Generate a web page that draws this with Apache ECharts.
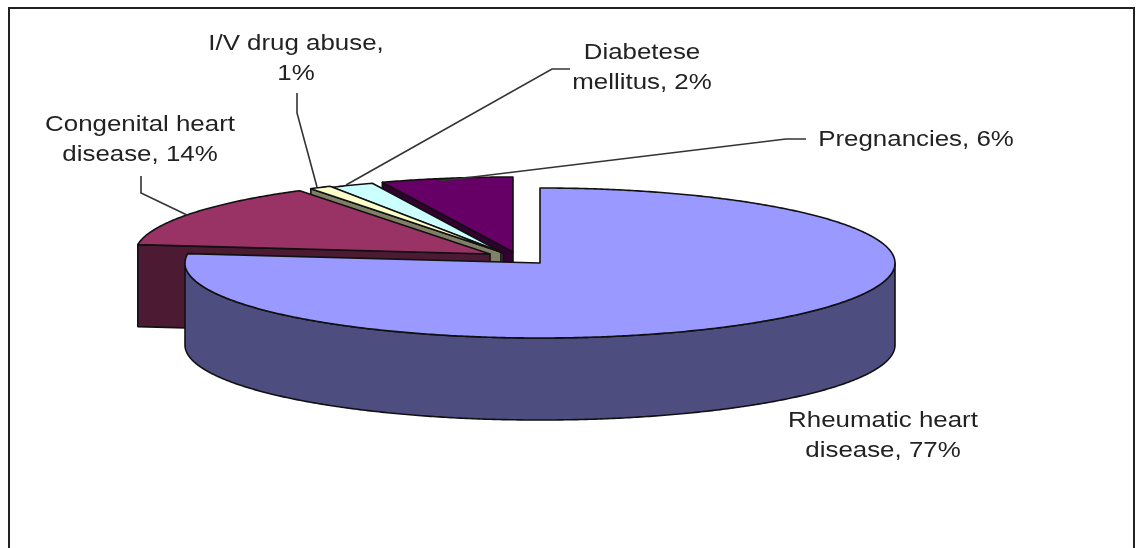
<!DOCTYPE html>
<html><head><meta charset="utf-8">
<style>html,body{margin:0;padding:0;background:#fff}#c{width:1138px;height:548px}</style>
<script src="https://cdn.jsdelivr.net/npm/echarts@6/dist/echarts.min.js"></script>
</head><body><div id="c"></div>
<script>
// data, in pie order (clockwise from 12 o'clock)
const categories = ['Rheumatic heart disease', 'Congenital heart disease', 'I/V drug abuse', 'Diabetese mellitus', 'Pregnancies'];
const values = [77, 14, 1, 2, 6];
const labelLines = [['Rheumatic heart', 'disease, 77%'], ['Congenital heart', 'disease, 14%'], ['I/V drug abuse,', '1%'], ['Diabetese', 'mellitus, 2%'], ['Pregnancies, 6%']];
// styles
const topColors = ['#9999FF', '#993366', '#FFFFCC', '#CCFFFF', '#660066'];
const wallColors = ['#4D4D80', '#4D1A33', '#808066', '#668080', '#330033'];
// layout
const RX = 355, RY = 75, DEPTH = 82, TEXT_STRETCH = 1.15;
const sliceCenters = [[540, 263], [490, 254], [501, 252], [503, 253], [513, 252]];
const labelCenters = [[883, 436], [140, 140], [296, 59], [642, 68], [916, 140]];
const leaders = [null,
  [[141, 176], [141, 193], [187, 215]],
  [[297, 93], [297, 113], [317, 187]],
  [[570, 69], [552, 69], [346, 185]],
  [[806, 139], [786, 139], [440, 181]]];

const total = values.reduce((a, b) => a + b, 0);
let acc = 0;
const spans = values.map(v => { const s = acc / total * 360; acc += v; return [s, acc / total * 360]; });
const rim = (c, deg, dy) => { const r = deg * Math.PI / 180; return [c[0] + RX * Math.sin(r), c[1] - RY * Math.cos(r) + (dy || 0)]; };
const arc = (c, a, b, dy) => { const pts = [], n = Math.max(2, Math.ceil(Math.abs(b - a) * 2)); for (let i = 0; i <= n; i++) pts.push(rim(c, a + (b - a) * i / n, dy)); return pts; };
const poly = (points, fill, z) => ({ type: 'polygon', z2: z, shape: { points }, style: { fill, stroke: '#111', lineWidth: 1.6, lineJoin: 'round' } });

function renderSlice(params, api) {
  const i = api.value(0), c = sliceCenters[i], [a, b] = spans[i];
  const kids = [];
  const bottom = p => [p[0], p[1] + DEPTH];
  const tip = c;
  if (a > 180 && a < 360) { const e = rim(c, a); kids.push(poly([tip, e, bottom(e), bottom(tip)], wallColors[i], 1)); }
  if (b > 0 && b < 180) { const e = rim(c, b); kids.push(poly([tip, e, bottom(e), bottom(tip)], wallColors[i], 1)); }
  const wa = Math.max(a, 90), wb = Math.min(b, 270);
  if (wb > wa) { const top = arc(c, wa, wb); kids.push(poly(top.concat(arc(c, wb, wa, DEPTH)), wallColors[i], 2)); }
  kids.push(poly([tip].concat(arc(c, a, b)), topColors[i], 3));
  if (leaders[i]) kids.push({ type: 'polyline', z2: 4, shape: { points: leaders[i] }, style: { fill: null, stroke: '#333', lineWidth: 1.6 } });
  const lc = labelCenters[i];
  kids.push({ type: 'text', z2: 5, x: lc[0], y: lc[1], scaleX: TEXT_STRETCH, style: { text: labelLines[i].join('\n'), fill: '#222', font: '22.5px "Liberation Sans"', lineHeight: 30, align: 'center', verticalAlign: 'middle' } });
  return { type: 'group', children: kids };
}

const chart = echarts.init(document.getElementById('c'), null, { renderer: 'canvas' });
chart.setOption({
  animation: false,
  backgroundColor: '#fff',
  graphic: [{ type: 'rect', silent: true, shape: { x: 9, y: 8, width: 1125, height: 560 }, style: { fill: null, stroke: '#222', lineWidth: 2 } }],
  series: [{
    type: 'custom', coordinateSystem: 'none', silent: true, clip: false,
    renderItem: renderSlice,
    data: categories.map((name, i) => ({ name, value: [i, values[i]] })).reverse()
  }]
});
</script></body></html>
